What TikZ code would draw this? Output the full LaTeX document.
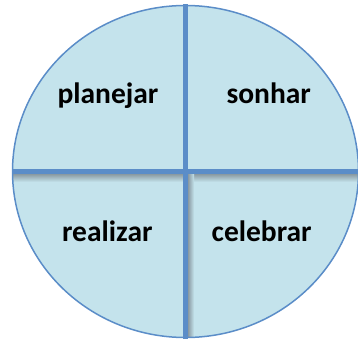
\documentclass[tikz,border=0pt]{standalone}
\usepackage{fontspec}
\setmainfont{Carlito}
\usetikzlibrary{positioning}
\definecolor{Rim}{HTML}{5B8DC8}
\definecolor{Disc}{HTML}{C4E3EC}
\definecolor{Shade}{HTML}{8A9AA2}
\tikzset{divider/.style={draw=Rim,line width=5pt},phase/.style={anchor=base,font=\fontsize{29.5}{34}\selectfont\bfseries,text=black}}
\begin{document}
\begin{tikzpicture}[x=1pt,y=1pt]
\useasboundingbox (0,0) rectangle (358,343);
\coordinate (mid) at (185.5,171.5);
\fill[Disc] (mid) ellipse (173 and 166);
% soft shadow under the dividers
\begin{scope}
\clip (mid) ellipse (173 and 166);
\shade[top color=Shade,bottom color=Disc] (12,169) rectangle (358,161);
\shade[left color=Shade,right color=Disc] (188,4) rectangle (194,169);
\end{scope}
\draw[Rim,line width=1.5pt] (mid) ellipse (173 and 166);
\coordinate (top) at (185.5,338.5);
\coordinate (bottom) at (185.5,4);
\coordinate (left) at (12,171.5);
\coordinate (right) at (358,171.5);
\draw[divider] (top) -- (bottom);
\draw[divider] (left) -- (right);
\node[phase] (planejar) at (108,239) {planejar};
\node[phase] (sonhar) at (268.7,239) {sonhar};
\node[phase] (realizar) at (107.3,102) {realizar};
\node[phase] (celebrar) at (261.7,102) {celebrar};
\end{tikzpicture}
\end{document}
